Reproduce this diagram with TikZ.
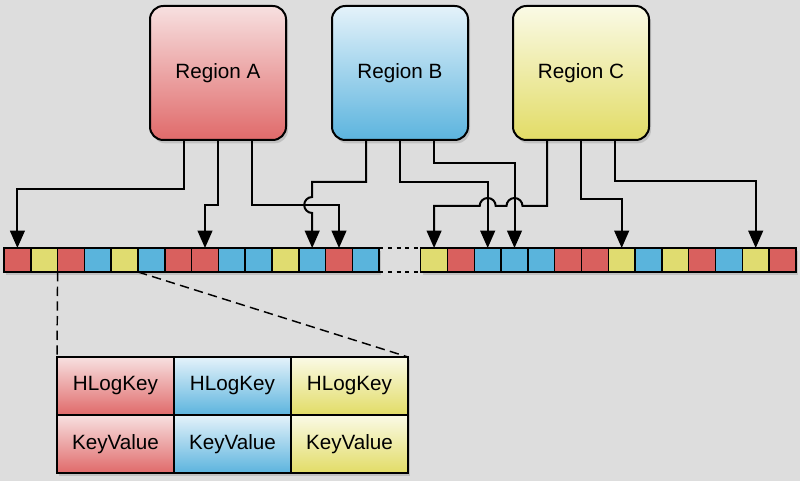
\documentclass[tikz,border=0pt]{standalone}
\usepackage{fontspec}
\setmainfont{Liberation Sans}
\usetikzlibrary{arrows.meta,calc,shadows}

\definecolor{bggray}{RGB}{221,221,221}
\definecolor{cellred}{RGB}{217,96,94}
\definecolor{cellyel}{RGB}{224,220,112}
\definecolor{cellblu}{RGB}{90,180,220}
\definecolor{redtop}{RGB}{247,224,224}
\definecolor{redbot}{RGB}{224,106,106}
\definecolor{blutop}{RGB}{228,242,250}
\definecolor{blubot}{RGB}{92,180,222}
\definecolor{yeltop}{RGB}{250,250,230}
\definecolor{yelbot}{RGB}{226,220,102}

\tikzset{every picture/.style={line width=0.75pt},
  region/.style={draw, line width=1.5pt, rounded corners=10pt, minimum width=102pt, minimum height=100.5pt, font=\fontsize{15.5}{18}\selectfont, drop shadow={shadow xshift=1.5pt, shadow yshift=-2.5pt, opacity=0.3}},
  cell/.style={draw, line width=1.1pt, minimum width=20.1pt, minimum height=18pt, inner sep=0pt, outer sep=0pt, drop shadow={shadow xshift=1.5pt, shadow yshift=-2.5pt, opacity=0.3}},
  entry/.style={draw, line width=1.1pt, minimum width=87.75pt, minimum height=43.5pt, inner sep=0pt, outer sep=0pt, font=\fontsize{15.5}{18}\selectfont, drop shadow={shadow xshift=1.5pt, shadow yshift=-2.5pt, opacity=0.3}},
  feed/.style={line width=1.5pt, -{Triangle[width=11pt,length=13pt]}},
  zoomline/.style={line width=1.1pt, dash pattern=on 7pt off 4pt},
  gapline/.style={line width=1.1pt, dash pattern=on 3pt off 3.5pt}
}

\begin{document}
\begin{tikzpicture}[x=0.75pt,y=0.75pt,yscale=-1,xscale=1]
%set diagram left start at 0, and has height of 481
\fill [bggray] (0,0) rectangle (800,481);

%Shape: Regions
\node [region, top color=redtop, bottom color=redbot] (rA) at (218,73) {Region A};
\node [region, top color=blutop, bottom color=blubot] (rB) at (400,73) {Region B};
\node [region, top color=yeltop, bottom color=yelbot] (rC) at (581,73) {Region C};

%Shape: Log strips
\foreach \col [count=\i] in {cellred,cellyel,cellred,cellblu,cellyel,cellblu,cellred,cellred,cellblu,cellblu,cellyel,cellblu,cellred,cellblu}
  \node [cell, fill=\col] (c\i) at ({17.4+26.8*(\i-1)},260) {};
\foreach \col [count=\i] in {cellyel,cellred,cellblu,cellblu,cellblu,cellred,cellred,cellyel,cellblu,cellyel,cellred,cellblu,cellyel,cellred}
  \node [cell, fill=\col] (d\i) at ({434.1+26.8*(\i-1)},260) {};

%Shape: Gap between strips
\draw [gapline] (c14.north east) -- (d1.north west);
\draw [gapline] (c14.south east) -- (d1.south west);

%Shape: Entry table
\node [entry, top color=redtop, bottom color=redbot] (t11) at (115.5,386) {HLogKey};
\node [entry, top color=blutop, bottom color=blubot] (t12) at (232.5,386) {HLogKey};
\node [entry, top color=yeltop, bottom color=yelbot] (t13) at (349.5,386) {HLogKey};
\node [entry, top color=redtop, bottom color=redbot] (t21) at (115.5,444) {KeyValue};
\node [entry, top color=blutop, bottom color=blubot] (t22) at (232.5,444) {KeyValue};
\node [entry, top color=yeltop, bottom color=yelbot] (t23) at (349.5,444) {KeyValue};

%Straight Lines: zoom
\draw [zoomline] (c3.south west) -- (t11.north west);
\draw [zoomline] (c5.south east) -- (t13.north east);

%Connectors: Region A
\draw [feed] ($(rA.south)+(-34,0)$) -- ++(0,48) -| (c1.north);
\draw [feed] (rA.south) -- ++(0,64) -| (c8.north);
\draw [feed] ($(rA.south)+(34,0)$) -- ++(0,64) -| (c13.north);
%Connectors: Region B
\draw [feed] ($(rB.south)+(-34,0)$) -- ++(0,41) -| ($(c12.north)+(0,-51)$) arc [start angle=270, end angle=90, radius=8] -- (c12.north);
\draw [feed] (rB.south) -- ++(0,41) -| (d3.north);
\draw [feed] ($(rB.south)+(34,0)$) -- ++(0,22) -| (d4.north);
%Connectors: Region C
\draw [feed] ($(rC.south)+(-34,0)$) -- ++(0,65) -- ($(d4.north)+(8,-42)$) arc [start angle=0, end angle=-180, radius=8] -- ($(d3.north)+(8,-42)$) arc [start angle=0, end angle=-180, radius=8] -| (d1.north);
\draw [feed] (rC.south) -- ++(0,58) -| (d8.north);
\draw [feed] ($(rC.south)+(34,0)$) -- ++(0,40) -| (d13.north);

\end{tikzpicture}
\end{document}
